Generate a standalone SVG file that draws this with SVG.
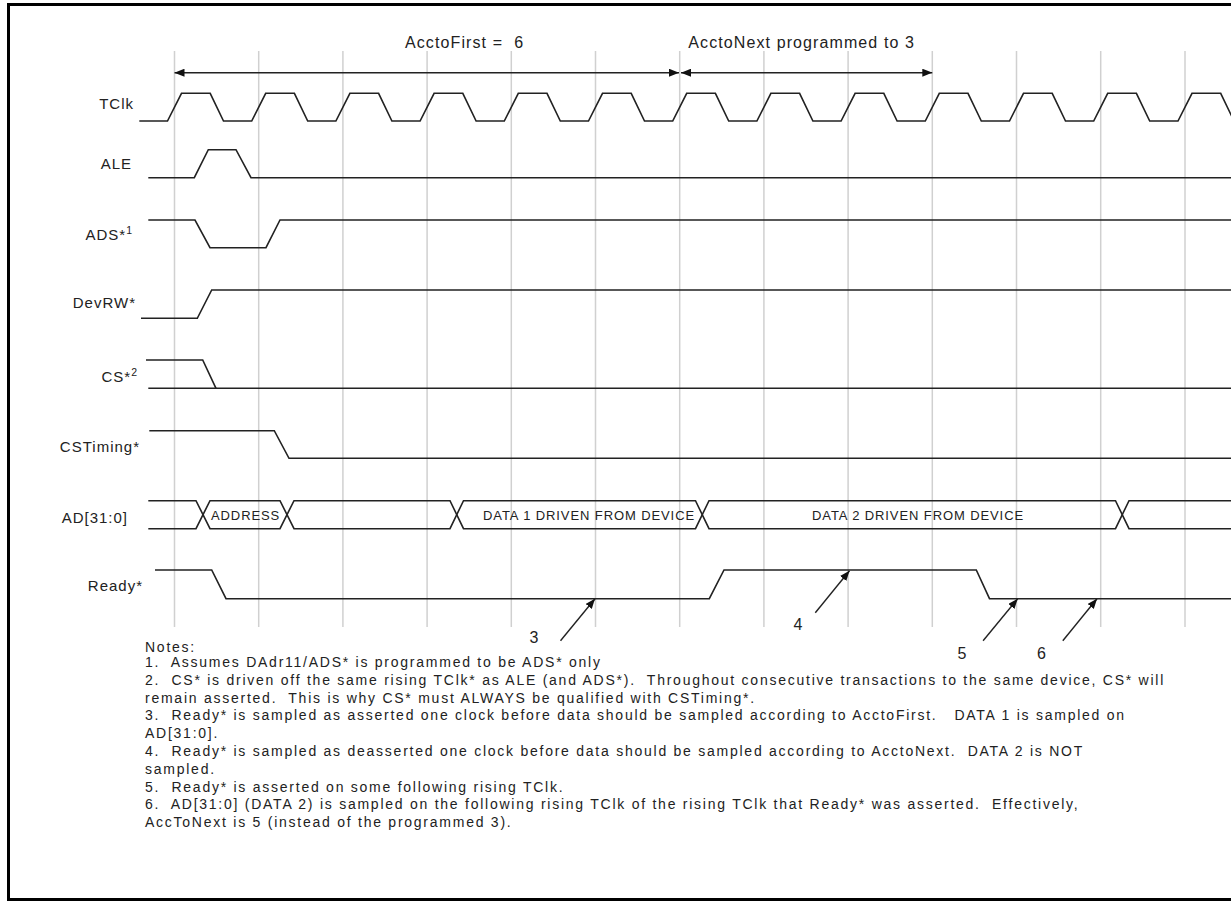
<svg xmlns="http://www.w3.org/2000/svg" width="1231" height="905" viewBox="0 0 1231 905">
<style>
text{font-family:"Liberation Sans",Arial,sans-serif;fill:#222}
.lbl{font-size:15px;letter-spacing:1px;text-anchor:end}
.sup{font-size:10.5px}
.top{font-size:16px;letter-spacing:1.1px}
.bus{font-size:13px;letter-spacing:0.9px}
.num{font-size:16px;text-anchor:middle}
.note{font-size:14px;letter-spacing:1.75px}
.grid line{stroke:#d0d0d0;stroke-width:1.5}
.sig{fill:none;stroke:#222;stroke-width:1.6;stroke-linejoin:miter}
.arr{fill:none;stroke:#222;stroke-width:1.4}
</style>
<defs>
<marker id="ah" viewBox="0 0 10 8" refX="10" refY="4" markerWidth="10" markerHeight="8" markerUnits="userSpaceOnUse" orient="auto-start-reverse">
<path d="M0,0 L10,4 L0,8 z" fill="#111"/>
</marker>
</defs>
<rect x="8.5" y="4.5" width="1235" height="895" fill="#fff" stroke="#000" stroke-width="3"/>
<g id="grid" class="grid">
<line x1="174.5" y1="51" x2="174.5" y2="627"/>
<line x1="258.7" y1="51" x2="258.7" y2="627"/>
<line x1="342.9" y1="51" x2="342.9" y2="627"/>
<line x1="427.1" y1="51" x2="427.1" y2="627"/>
<line x1="511.3" y1="51" x2="511.3" y2="627"/>
<line x1="595.5" y1="51" x2="595.5" y2="627"/>
<line x1="679.7" y1="51" x2="679.7" y2="627"/>
<line x1="763.9" y1="51" x2="763.9" y2="627"/>
<line x1="848.1" y1="51" x2="848.1" y2="627"/>
<line x1="932.3" y1="51" x2="932.3" y2="627"/>
<line x1="1016.5" y1="51" x2="1016.5" y2="627"/>
<line x1="1100.7" y1="51" x2="1100.7" y2="627"/>
<line x1="1185" y1="51" x2="1185" y2="627"/>
</g>
<g id="connectors">
<line class="arr" x1="174.5" y1="72.7" x2="679" y2="72.7" marker-start="url(#ah)" marker-end="url(#ah)"/>
<line class="arr" x1="681" y1="72.7" x2="932.3" y2="72.7" marker-start="url(#ah)" marker-end="url(#ah)"/>
<line class="arr" x1="560.5" y1="640.7" x2="595" y2="598.7" marker-end="url(#ah)"/>
<line class="arr" x1="815.3" y1="612.7" x2="849.5" y2="570.7" marker-end="url(#ah)"/>
<line class="arr" x1="983.1" y1="640.7" x2="1017.7" y2="598.7" marker-end="url(#ah)"/>
<line class="arr" x1="1062.8" y1="640.7" x2="1097" y2="598.7" marker-end="url(#ah)"/>
</g>
<g id="span-labels">
<text class="top" x="405" y="48.3" xml:space="preserve">AcctoFirst =  6</text>
<text class="top" x="688.3" y="48.3">AcctoNext programmed to 3</text>
</g>
<g id="TClk">
<text class="lbl" x="134" y="109">TClk</text>
<path class="sig" d="M139.3,121 L167.5,121 L181.5,93.3 L210.2,93.3 L223.5,121 L251.7,121 L265.7,93.3 L294.4,93.3 L307.7,121 L335.9,121 L349.9,93.3 L378.6,93.3 L391.9,121 L420.1,121 L434.1,93.3 L462.8,93.3 L476.1,121 L504.3,121 L518.3,93.3 L547,93.3 L560.3,121 L588.5,121 L602.5,93.3 L631.2,93.3 L644.5,121 L672.7,121 L686.7,93.3 L715.4,93.3 L728.7,121 L756.9,121 L770.9,93.3 L799.6,93.3 L812.9,121 L841.1,121 L855.1,93.3 L883.8,93.3 L897.1,121 L925.3,121 L939.3,93.3 L968,93.3 L981.3,121 L1009.5,121 L1023.5,93.3 L1052.2,93.3 L1065.5,121 L1093.7,121 L1107.7,93.3 L1136.4,93.3 L1149.7,121 L1178,121 L1192,93.3 L1220.7,93.3 L1234,121"/>
</g>
<g id="ALE">
<text class="lbl" x="132" y="169">ALE</text>
<path class="sig" d="M148.3,177.7 L194.3,177.7 L208.3,149.7 L236,149.7 L251,177.7 L1231,177.7"/>
</g>
<g id="ADS">
<text class="lbl" x="133" y="240">ADS*<tspan class="sup" dy="-6">1</tspan></text>
<path class="sig" d="M148.3,220 L195,220 L210,247.7 L266,247.7 L280,220 L1231,220"/>
</g>
<g id="DevRW">
<text class="lbl" x="136" y="308">DevRW*</text>
<path class="sig" d="M141,318.3 L197.3,318.3 L211.7,290 L1231,290"/>
</g>
<g id="CS">
<text class="lbl" x="138" y="382">CS*<tspan class="sup" dy="-6">2</tspan></text>
<path class="sig" d="M146,360 L202.7,360 L216,388.3"/>
<path class="sig" d="M148.3,388.3 L1231,388.3"/>
</g>
<g id="CSTiming">
<text class="lbl" x="140" y="452">CSTiming*</text>
<path class="sig" d="M149.3,430.7 L274.3,430.7 L289,458.3 L1231,458.3"/>
</g>
<g id="AD">
<text class="lbl" x="128" y="523">AD[31:0]</text>
<path class="sig" d="M148.3,500.7 L196,500.7 L210,528.7 L280,528.7 L294,500.7 L450,500.7 L463.5,528.7 L695.5,528.7 L709,500.7 L1115.5,500.7 L1129,528.7 L1231,528.7"/>
<path class="sig" d="M148.3,528.7 L196,528.7 L210,500.7 L280,500.7 L294,528.7 L450,528.7 L463.5,500.7 L695.5,500.7 L709,528.7 L1115.5,528.7 L1129,500.7 L1231,500.7"/>
<text class="bus" x="211" y="520">ADDRESS</text>
<text class="bus" x="483" y="519.5">DATA 1 DRIVEN FROM DEVICE</text>
<text class="bus" x="812" y="519.5">DATA 2 DRIVEN FROM DEVICE</text>
</g>
<g id="Ready">
<text class="lbl" x="143" y="591">Ready*</text>
<path class="sig" d="M155,570 L211.7,570 L226,598.7 L709.3,598.7 L724,570 L976.3,570 L989.5,598.7 L1231,598.7"/>
</g>
<g id="callouts">
<text class="num" x="534" y="643">3</text>
<text class="num" x="798" y="630">4</text>
<text class="num" x="962" y="659">5</text>
<text class="num" x="1041.5" y="659">6</text>
</g>
<g id="notes">
<text class="note" x="145" y="652">Notes:</text>
<text class="note" x="145" y="667" xml:space="preserve">1.  Assumes DAdr11/ADS* is programmed to be ADS* only</text>
<text class="note" x="145" y="684.8" xml:space="preserve">2.  CS* is driven off the same rising TClk* as ALE (and ADS*).  Throughout consecutive transactions to the same device, CS* will</text>
<text class="note" x="145" y="702.6" xml:space="preserve">remain asserted.  This is why CS* must ALWAYS be qualified with CSTiming*.</text>
<text class="note" x="145" y="720.4" xml:space="preserve">3.  Ready* is sampled as asserted one clock before data should be sampled according to AcctoFirst.   DATA 1 is sampled on</text>
<text class="note" x="145" y="738.2" xml:space="preserve">AD[31:0].</text>
<text class="note" x="145" y="756" xml:space="preserve">4.  Ready* is sampled as deasserted one clock before data should be sampled according to AcctoNext.  DATA 2 is NOT</text>
<text class="note" x="145" y="773.8" xml:space="preserve">sampled.</text>
<text class="note" x="145" y="791.6" xml:space="preserve">5.  Ready* is asserted on some following rising TClk.</text>
<text class="note" x="145" y="809.4" xml:space="preserve">6.  AD[31:0] (DATA 2) is sampled on the following rising TClk of the rising TClk that Ready* was asserted.  Effectively,</text>
<text class="note" x="145" y="827.2" xml:space="preserve">AccToNext is 5 (instead of the programmed 3).</text>
</g>
</svg>
